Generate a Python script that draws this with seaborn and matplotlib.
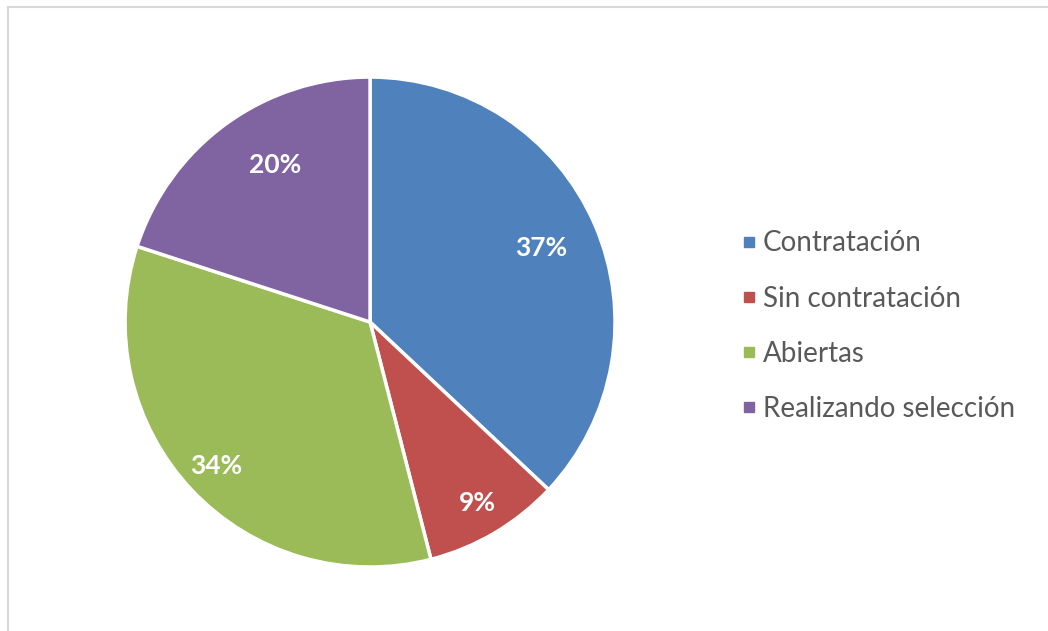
import numpy as np
import seaborn as sns
import matplotlib.pyplot as plt
from matplotlib.lines import Line2D

# data
categories = ['Contratación', 'Sin contratación', 'Abiertas', 'Realizando selección']
shares = [37, 9, 34, 20]
colors = ['#4F81BD', '#C0504D', '#9BBB59', '#8064A2']
label_dist = [0.76, 0.86, 0.86, 0.75]
label_turn = [0, 0, 0, -5]   # small angular nudges, degrees

sns.set_theme(style='white')
plt.rcParams['font.family'] = ['Lato', 'DejaVu Sans']

fig = plt.figure(figsize=(10.48, 6.31), dpi=100)
ax = fig.add_axes([0.1193, 0.1014, 0.4676, 0.7765])

wedges, _ = ax.pie(shares, colors=colors, startangle=90, counterclock=False,
                   wedgeprops=dict(edgecolor='white', linewidth=2.5))
ax.set_xlim(-1, 1)
ax.set_ylim(-1, 1)
ax.set_aspect('equal')

# percentage labels inside the wedges
for w, s, d, t in zip(wedges, shares, label_dist, label_turn):
    mid = np.deg2rad((w.theta1 + w.theta2) / 2 + t)
    ax.text(d * np.cos(mid), d * np.sin(mid), f'{s}%', ha='center', va='center',
            color='white', fontsize=19, fontweight='bold')

handles = [Line2D([], [], marker='s', linestyle='', markersize=7,
                  markerfacecolor=c, markeredgecolor=c) for c in colors]
fig.legend(handles, categories, loc='center left', bbox_to_anchor=(0.683, 0.483),
           frameon=False, fontsize=20, labelcolor='#595959', handletextpad=0.2,
           handlelength=0.6, labelspacing=1.05)

# faint chart frame, visible on top and left
fig.add_artist(Line2D([0.008, 1.0], [0.989, 0.989], color='#D9D9D9', lw=1.5))
fig.add_artist(Line2D([0.008, 0.008], [0.0, 0.989], color='#D9D9D9', lw=1.5))

fig.savefig('out.png', dpi=100)
